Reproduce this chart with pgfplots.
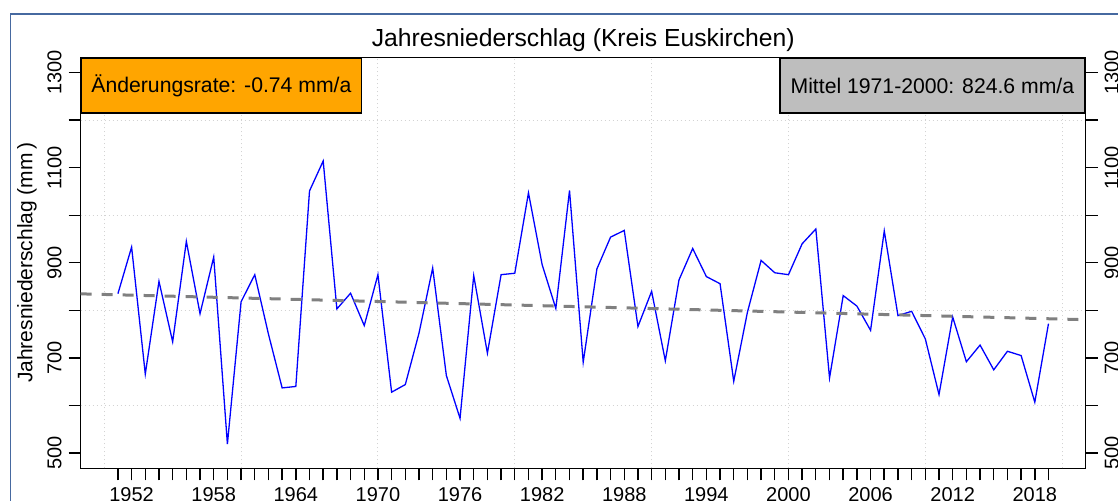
\documentclass[border=0pt]{standalone}
\usepackage{fontspec}
\setmainfont{Liberation Sans}
\usepackage{pgfplots}
\usepackage{pgfplotstable}
\pgfplotsset{compat=1.18}
\definecolor{frameblue}{RGB}{70,105,160}
\definecolor{gridgray}{RGB}{211,211,211}
\definecolor{rgray}{RGB}{190,190,190}
\definecolor{rorange}{RGB}{255,165,0}
\definecolor{trendgray}{RGB}{128,128,128}

\pgfplotstableread{
year value
1951 835
1952 933
1953 666
1954 861
1955 734
1956 945
1957 793
1958 912
1959 519
1960 818
1961 875
1962 750
1963 637
1964 640
1965 1051
1966 1114
1967 803
1968 836
1969 768
1970 875
1971 628
1972 644
1973 752
1974 889
1975 663
1976 573
1977 873
1978 710
1979 875
1980 878
1981 1047
1982 896
1983 804
1984 1052
1985 691
1986 887
1987 954
1988 968
1989 766
1990 840
1991 694
1992 864
1993 930
1994 871
1995 856
1996 651
1997 796
1998 905
1999 879
2000 875
2001 940
2002 971
2003 658
2004 831
2005 809
2006 758
2007 967
2008 789
2009 798
2010 740
2011 623
2012 786
2013 692
2014 727
2015 675
2016 714
2017 705
2018 607
2019 772
}\datatable

\begin{document}
\begin{tikzpicture}
\path[use as bounding box, clip] (0,0) rectangle (559pt,250.5pt);
\draw[frameblue, line width=0.8pt] (5.2pt,-2pt) -- (5.2pt,243.4pt) -- (562pt,243.4pt);
\begin{axis}[
  at={(40.35pt,16.35pt)}, anchor=south west, scale only axis,
  width=502.5pt, height=205.5pt,
  xmin=1948.28, xmax=2021.72, ymin=468, ymax=1332,
  tick align=outside, tick pos=left,
  xtick={1952,1958,...,2018}, minor xtick={1951,...,2019},
  ytick={500,700,...,1300}, minor ytick={600,800,...,1200},
  major tick length=6pt, minor tick length=6pt,
  extra x ticks={1950,1960,...,2020}, extra x tick labels={,,,,,,,},
  extra y ticks={600,800,1000,1200}, extra y tick labels={,,,},
  extra tick style={grid=major, major tick length=0pt,
    major grid style={gridgray, line width=0.5pt, dash pattern=on 0.5pt off 1.5pt}},
  axis line style={line width=0.7pt, black},
  tick style={line width=0.7pt, black},
  tick label style={font=\fontsize{10}{12}\selectfont},
  /pgf/number format/1000 sep={},
  /pgf/number format/assume math mode=true,
  yticklabel style={rotate=90, anchor=south},
  ylabel={Jahresniederschlag (mm\,)},
  ylabel style={at={(axis description cs:-0.0482,0.5)}, anchor=base,
    font=\fontsize{10.5}{12}\selectfont},
]
\addplot[blue, line width=0.65pt, mark=none] table[x=year, y=value]{\datatable};
\addplot[trendgray, line width=1.5pt, dash pattern=on 5.5pt off 5pt, mark=none]
  coordinates {(1948.28,834.7) (2021.72,780.35)};
\node[draw=black, fill=rorange, line width=0.7pt, anchor=north west,
  inner xsep=5pt, inner ysep=0pt, minimum height=27.5pt,
  font=\fontsize{10.6}{12}\selectfont] at (rel axis cs:0,1) {Änderungsrate: -0.74 mm/a};
\node[draw=black, fill=rgray, line width=0.7pt, anchor=north east,
  inner xsep=5.4pt, inner ysep=0pt, minimum height=27.5pt,
  font=\fontsize{10.6}{12}\selectfont] at (rel axis cs:1,1) {Mittel 1971-2000: 824.6 mm/a};
\end{axis}
\begin{axis}[
  at={(40.35pt,16.35pt)}, anchor=south west, scale only axis,
  width=502.5pt, height=205.5pt,
  xmin=1948.28, xmax=2021.72, ymin=468, ymax=1332,
  axis x line=none, axis y line*=right,
  tick align=outside,
  ytick={500,700,...,1300}, minor ytick={600,800,...,1200},
  major tick length=6pt, minor tick length=6pt,
  axis line style={line width=0.7pt, black, -},
  tick style={line width=0.7pt, black},
  tick label style={font=\fontsize{10}{12}\selectfont},
  /pgf/number format/1000 sep={},
  /pgf/number format/assume math mode=true,
  yticklabel style={rotate=90, anchor=north},
]
\addplot[draw=none, mark=none] coordinates {(1960,800)};
\end{axis}
\node[anchor=base, inner sep=0pt, font=\fontsize{12.35}{14}\selectfont]
  at (291.6pt,227.15pt) {Jahresniederschlag (Kreis Euskirchen)};
\end{tikzpicture}
\end{document}
